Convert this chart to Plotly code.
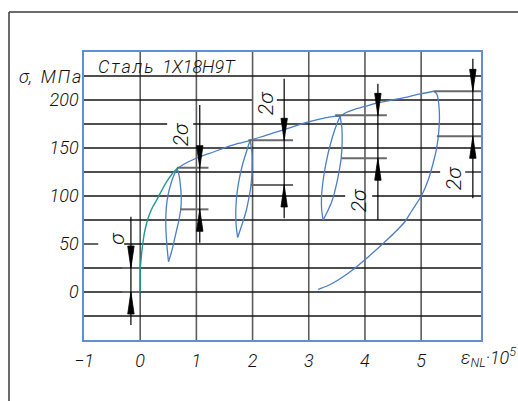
import plotly.graph_objects as go

# ---------------- data: strain eps_NL * 1e5, stress sigma in MPa ----------------
# initial loading branch
load_x = [0, 0, 0.004, 0.018, 0.032, 0.053, 0.075, 0.116, 0.160, 0.222, 0.294, 0.391, 0.498, 0.587, 0.658]
load_y = [0, 12.5, 26.0, 35.4, 43.8, 53.1, 61.5, 71.9, 80.2, 88.5, 95.8, 106.8, 117.2, 124.5, 128.6]

# upper envelope (reloading beyond previous maxima)
env_x = [0.658, 0.801, 1.055, 1.317, 1.512, 1.744, 1.957, 2.224, 2.521, 2.995, 3.292, 3.452, 3.559,
         3.665, 3.790, 4.004, 4.217, 4.484, 4.751, 4.982, 5.219]
env_y = [128.6, 133.9, 140.6, 146.1, 150.5, 154.7, 158.0, 163.0, 168.4, 177.1, 181.3, 183.0, 183.3,
         187.0, 189.8, 193.4, 196.9, 200.0, 203.1, 206.3, 209.1]

# hysteresis loop 1: unloading / reloading branches
loop1_down_x = [0.658, 0.587, 0.525, 0.480, 0.459, 0.456, 0.468, 0.486, 0.504]
loop1_down_y = [128.6, 119.8, 108.3, 95.8, 82.3, 68.8, 54.2, 41.7, 31.6]
loop1_up_x = [0.504, 0.552, 0.596, 0.644, 0.690, 0.726, 0.730, 0.715, 0.690, 0.658]
loop1_up_y = [31.6, 40.6, 51.0, 63.5, 75.0, 88.5, 100.0, 111.5, 121.9, 128.6]

# hysteresis loop 2
loop2_down_x = [1.957, 1.895, 1.824, 1.767, 1.726, 1.705, 1.701, 1.712, 1.735]
loop2_down_y = [158.0, 146.9, 133.3, 118.8, 104.2, 90.6, 78.1, 66.7, 56.8]
loop2_up_x = [1.735, 1.785, 1.838, 1.890, 1.931, 1.968, 1.988, 1.993, 1.988, 1.957]
loop2_up_y = [56.8, 65.6, 75.0, 85.4, 96.9, 109.4, 122.9, 135.4, 145.8, 158.0]

# hysteresis loop 3
loop3_down_x = [3.559, 3.461, 3.381, 3.310, 3.256, 3.226, 3.230, 3.256]
loop3_down_y = [183.3, 168.8, 153.1, 135.4, 116.7, 97.9, 85.4, 75.0]
loop3_up_x = [3.256, 3.336, 3.407, 3.470, 3.528, 3.577, 3.594, 3.589, 3.559]
loop3_up_y = [75.0, 84.4, 93.8, 106.3, 121.9, 139.6, 156.3, 170.8, 183.3]

# final unloading from the last maximum
unload_x = [5.219, 5.267, 5.295, 5.317, 5.326, 5.311, 5.279, 5.214, 5.125, 5.012, 4.831, 4.710,
            4.502, 4.294, 4.057, 3.820, 3.523, 3.345, 3.167]
unload_y = [209.1, 207.3, 203.1, 193.8, 180.5, 165.6, 151.0, 134.4, 116.7, 101.0, 84.4, 73.2,
            60.4, 49.0, 36.5, 24.7, 12.5, 6.8, 2.8]

# axes
x_ticks = [-1, 0, 1, 2, 3, 4, 5]
x_ticktext = ["\u22121", "0", "1", "2", "3", "4", "5"]
y_ticks = [0, 50, 100, 150, 200]
y_ticktext = ["0", "50", "100", "150", "200"]
x_grid = [0, 1, 2, 3, 4, 5]
y_grid = [-25, 0, 25, 50, 75, 100, 125, 150, 175, 200, 225]
# breaks in the horizontal grid where dimension texts sit
grid_gap_level = [50, 100, 125, 175, 200]
grid_gap_from = [-0.747, 3.648, 5.338, 0.480, 1.988]
grid_gap_to = [-0.285, 4.128, 5.783, 0.943, 2.432]

# dimension marks (amplitude sigma / double amplitude 2sigma)
dim_x = [-0.165, 1.06, 2.562, 4.23, 5.92]
dim_hi = [25, 129.5, 158, 184, 209]
dim_lo = [0, 86.1, 111.5, 139.3, 162.2]
dim_top = [78.4, 194.8, 222.2, 217, 243]
dim_bot = [-34.4, 51.4, 76.8, 75, 97.6]
ext_hi_from = [-0.32, 0.653, 1.925, 3.47, 5.22]
ext_lo_from = [-0.32, 0.712, 1.97, 3.58, 5.28]
ext_to = [0, 1.215, 2.72, 4.39, 6.2]
dim_text = ["σ", "2σ", "2σ", "2σ", "2σ"]
dim_text_x = [-0.427, 0.730, 2.242, 3.897, 5.587]
dim_text_y = [55.7, 164.6, 196.9, 95.8, 118.75]

# ---------------- layout geometry ----------------
W, H = 518, 401
ML, MR, MT, MB = 84, 37, 52, 61
X_RANGE = [-1, 6.065]
Y_RANGE = [-50, 250]
px_x = (W - ML - MR) / (X_RANGE[1] - X_RANGE[0])
px_y = (H - MT - MB) / (Y_RANGE[1] - Y_RANGE[0])

BLUE = "#4b7ec8"
TEAL = "#1b9a90"
FONT = "Roboto"
TXT = dict(family=FONT, color="#111", style="italic", weight=300)
HAIR = "\u200a"


def spaced(s):
    # drafting-style letter spacing
    return HAIR.join(s)


fig = go.Figure()


def curve(xs, ys, color, width=1.3):
    fig.add_trace(go.Scatter(x=xs, y=ys, mode="lines",
                             line=dict(color=color, width=width, shape="spline", smoothing=0.8),
                             hoverinfo="skip", showlegend=False))


curve(loop1_down_x, loop1_down_y, BLUE)
curve(loop1_up_x, loop1_up_y, BLUE)
curve(loop2_down_x, loop2_down_y, BLUE)
curve(loop2_up_x, loop2_up_y, BLUE)
curve(loop3_down_x, loop3_down_y, BLUE)
curve(loop3_up_x, loop3_up_y, BLUE)
curve(unload_x, unload_y, BLUE)
curve(env_x, env_y, BLUE)
curve(load_x, load_y, TEAL, 1.4)

shapes = []


def seg(x0, y0, x1, y1, color, width, layer="below"):
    shapes.append(dict(type="line", xref="x", yref="y", x0=x0, y0=y0, x1=x1, y1=y1,
                       line=dict(color=color, width=width), layer=layer))


# vertical grid
for gx in x_grid:
    seg(gx, Y_RANGE[0], gx, Y_RANGE[1], "#5c5c5c", 1.6)

# horizontal grid with breaks
for gy in y_grid:
    pieces = [(X_RANGE[0], X_RANGE[1])]
    for lvl, a, b in zip(grid_gap_level, grid_gap_from, grid_gap_to):
        if lvl == gy:
            pieces = [(X_RANGE[0], a), (b, X_RANGE[1])]
    for a, b in pieces:
        seg(a, gy, b, gy, "#151515", 1.3)

# dimension marks
ARROW_L = 22  # px
ARROW_HW = 3.2  # px


def arrow(x, ytip, direction):
    # direction -1: pointing down, +1: pointing up
    yb = ytip - direction * ARROW_L / px_y
    dx = ARROW_HW / px_x
    path = f"M {x} {ytip} L {x - dx} {yb} L {x + dx} {yb} Z"
    shapes.append(dict(type="path", xref="x", yref="y", path=path,
                       fillcolor="#000000", line=dict(color="#000000", width=0.8), layer="above"))


for i in range(len(dim_x)):
    seg(ext_hi_from[i], dim_hi[i], ext_to[i], dim_hi[i], "#6a6a6a", 2.0, "above")
    seg(ext_lo_from[i], dim_lo[i], ext_to[i], dim_lo[i], "#6a6a6a", 2.0, "above")
    seg(dim_x[i], dim_bot[i], dim_x[i], dim_top[i], "#000000", 1.2, "above")
    arrow(dim_x[i], dim_hi[i], -1)
    arrow(dim_x[i], dim_lo[i], +1)

# outer drawing frame
fx = (9 - ML) / (W - ML - MR)
fy = (H - MB - 12) / (H - MT - MB)
shapes.append(dict(type="line", xref="paper", yref="paper", x0=fx, y0=fy, x1=fx, y1=-0.3,
                   line=dict(color="#3a3a3a", width=1.5)))
shapes.append(dict(type="line", xref="paper", yref="paper", x0=fx, y0=fy, x1=1.2, y1=fy,
                   line=dict(color="#3a3a3a", width=1.5)))

annotations = []
for t, tx, ty in zip(dim_text, dim_text_x, dim_text_y):
    annotations.append(dict(x=tx, y=ty, xref="x", yref="y", text=t, showarrow=False, textangle=-90,
                            font=dict(TXT, size=21)))

annotations.append(dict(x=(96 - ML) / (W - ML - MR), y=(H - MB - 66) / (H - MT - MB),
                        xref="paper", yref="paper", xanchor="left", yanchor="middle",
                        text=spaced("Сталь") + "  1Х18Н9Т", showarrow=False,
                        font=dict(TXT, size=18)))
annotations.append(dict(x=(83 - ML) / (W - ML - MR), y=225, xref="paper", yref="y",
                        xanchor="right", yanchor="middle", text="σ,  " + spaced("МПа"), showarrow=False,
                        font=dict(TXT, size=18)))
annotations.append(dict(x=(459 - ML) / (W - ML - MR), y=(H - MB - 357) / (H - MT - MB),
                        xref="paper", yref="paper", xanchor="left", yanchor="middle",
                        text="ε<sub>NL</sub>·10<sup>5</sup>", showarrow=False,
                        font=dict(TXT, size=18)))

tickfont = dict(TXT, size=18)
fig.update_layout(
    width=W, height=H, autosize=False,
    margin=dict(l=ML, r=MR, t=MT, b=MB, pad=0),
    paper_bgcolor="white", plot_bgcolor="white",
    shapes=shapes, annotations=annotations,
    xaxis=dict(range=X_RANGE, showgrid=False, zeroline=False, showline=True, mirror=True,
               linecolor="#5f8fd4", linewidth=1.6, tickvals=x_ticks, ticktext=x_ticktext,
               ticks="", tickfont=tickfont, ticklabelstandoff=4, fixedrange=True),
    yaxis=dict(range=Y_RANGE, showgrid=False, zeroline=False, showline=True, mirror=True,
               linecolor="#5f8fd4", linewidth=1.6, tickvals=y_ticks, ticktext=y_ticktext,
               ticks="", tickfont=tickfont, ticklabelstandoff=0, fixedrange=True),
)

fig.write_html("out.html")
